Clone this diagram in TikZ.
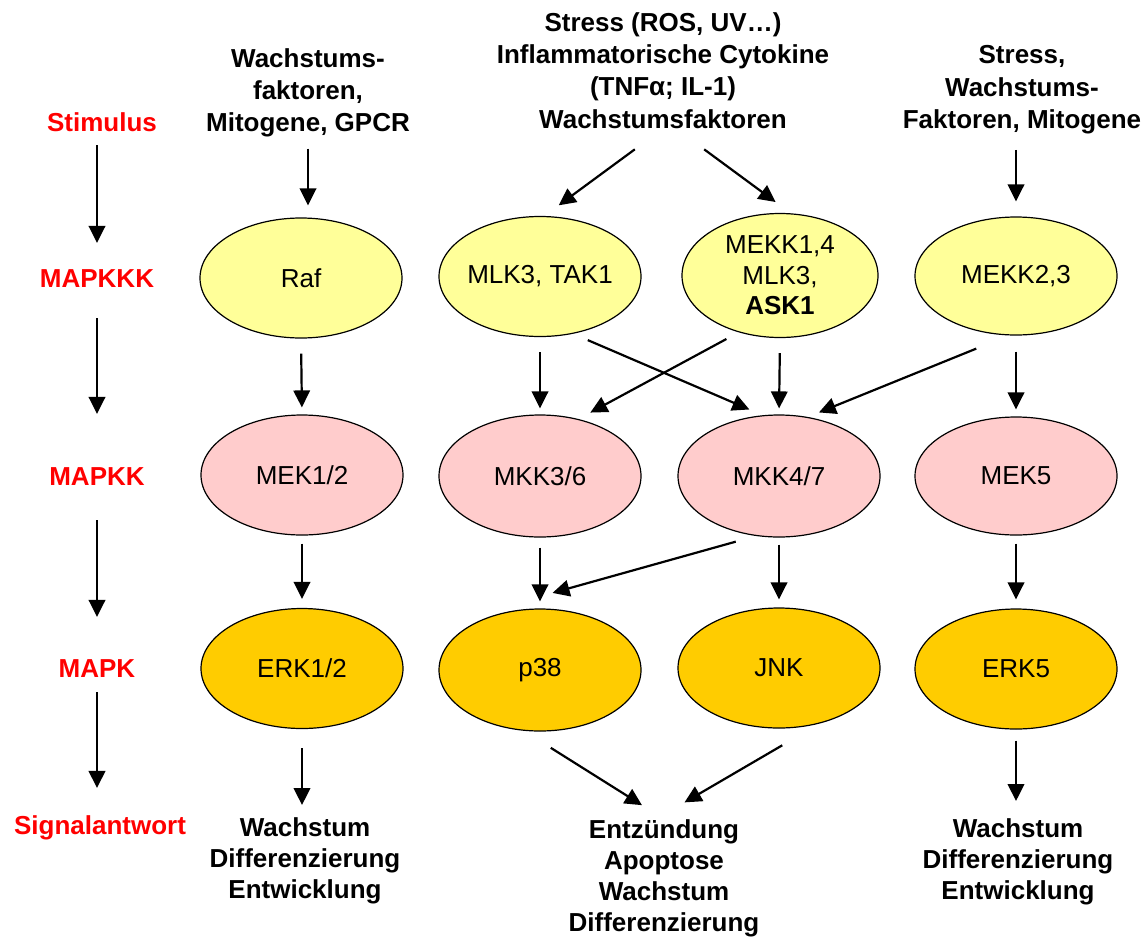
\documentclass[tikz,border=0pt]{standalone}
\usepackage{fontspec}
\setmainfont{Liberation Sans}
\usetikzlibrary{arrows.meta,shapes.geometric}
\definecolor{kkkfill}{HTML}{FFFF99}
\definecolor{kkfill}{HTML}{FFCCCC}
\definecolor{mapkfill}{HTML}{FFCC00}
\definecolor{levelred}{HTML}{FF0000}

\begin{document}
\begin{tikzpicture}[x=1pt,y=1pt,line join=round,
  kinase/.style={ellipse,draw,line width=1.2pt,inner sep=0pt,
    minimum width=202pt,minimum height=120pt,align=center,
    font=\fontsize{26}{30.5}\selectfont},
  tierkkk/.style={kinase,fill=kkkfill},
  tierkk/.style={kinase,fill=kkfill},
  tierk/.style={kinase,fill=mapkfill},
  level/.style={font=\fontsize{26}{30}\selectfont\bfseries,text=levelred,
    inner sep=0pt,anchor=base},
  cue/.style={font=\fontsize{26}{32.2}\selectfont\bfseries,align=center,
    inner sep=0pt,anchor=north},
  outcome/.style={font=\fontsize{26}{31.3}\selectfont\bfseries,align=center,
    inner sep=0pt,anchor=north},
  arr/.style={-{Triangle[length=17pt,width=16.5pt]},line width=2.2pt}]

\useasboundingbox (0,0) rectangle (1145,-938);

% Cascade levels on the left.
\node[level] (lStim) at (102,-131) {Stimulus};
\node[level] (lKKK) at (97,-287.5) {MAPKKK};
\node[level] (lKK) at (97,-485) {MAPKK};
\node[level] (lK) at (97,-677) {MAPK};
\node[level] (lSig) at (100,-834) {Signalantwort};
\draw[arr,shorten <=14pt,shorten >=26.5pt] (lStim.south -| lKKK) -- (lKKK.north);
\draw[arr,shorten <=30.5pt,shorten >=53pt] (lKKK.south) -- (lKK.north);
\draw[arr,shorten <=35pt,shorten >=42pt] (lKK.south) -- (lK.north);
\draw[arr,shorten <=15pt,shorten >=27pt] (lK.south) -- (lSig.north -| lK);

% Stimuli above the four modules.
\node[cue] (cueA) at (308,-48.5) {Wachstums-\\faktoren,\\Mitogene, GPCR};
\node[cue] (cueB) at (663,-12.5)
  {Stress (ROS, UV…)\\Inflammatorische Cytokine\\(TNFα; IL-1)\\Wachstumsfaktoren};
\node[cue] (cueC) at (1022,-45.5) {Stress,\\Wachstums-\\Faktoren, Mitogene};

% MAPKKK row.
\node[tierkkk] (Raf) at (301,-278) {Raf};
\node[tierkkk] (MLK) at (540,-276.5) {\makebox[120pt]{MLK3, TAK1}};
\node[tierkkk,minimum width=196pt,minimum height=124pt] (MEKKa) at (780,-275.5)
  {MEKK1,4\\MLK3,\\\textbf{ASK1}};
\node[tierkkk,minimum height=118pt] (MEKKb) at (1016,-276) {MEKK2,3};

% MAPKK row.
\node[tierkk] (MEKa) at (302,-475) {MEK1/2};
\node[tierkk,minimum height=122pt] (MKKa) at (540,-476) {MKK3/6};
\node[tierkk,minimum height=122pt] (MKKb) at (779,-476) {MKK4/7};
\node[tierkk,minimum height=118pt] (MEKb) at (1016,-476) {MEK5};

% MAPK row.
\node[tierk] (ERKa) at (302,-668.5) {ERK1/2};
\node[tierk,minimum height=122pt] (p38) at (540,-670) {p38};
\node[tierk] (JNK) at (779,-668) {JNK};
\node[tierk] (ERKb) at (1016,-669) {ERK5};

% Responses.
\node[outcome] (outA) at (305,-817) {Wachstum\\Differenzierung\\Entwicklung};
\node[outcome] (outB) at (664,-819)
  {Entzündung\\Apoptose\\Wachstum\\Differenzierung};
\node[outcome] (outC) at (1018,-818) {Wachstum\\Differenzierung\\Entwicklung};

% Stimulus -> MAPKKK.
\draw[arr,shorten <=11pt,shorten >=12pt] (cueA.south) -- (cueA.south |- Raf.north);
\draw[arr,shorten <=35pt,shorten >=18pt] (cueB.south) -- (MLK.86);
\draw[arr,shorten <=35pt,shorten >=19pt] ([xshift=13pt]cueB.south) -- (MEKKa.80);
\draw[arr,shorten <=16pt,shorten >=15pt] (cueC.south -| MEKKb.north) -- (MEKKb.north);

% MAPKKK -> MAPKK.
\draw[arr,shorten <=15pt,shorten >=7pt] (Raf.south) -- (MEKa.north);
\draw[arr,shorten <=15pt,shorten >=6pt] (MLK.south) -- (MKKa.north);
\draw[arr,shorten <=16pt,shorten >=14.5pt] (MLK.-60) -- (MKKb.105);
\draw[arr,shorten <=14pt,shorten >=13.5pt] (MEKKa.-126) -- (MKKa.56);
\draw[arr,shorten <=15pt,shorten >=6pt] (MEKKa.south) -- (MKKb.north);
\draw[arr,shorten <=35pt,shorten >=12pt] (MEKKb.-97) -- (MKKb.64);
\draw[arr,shorten <=16pt,shorten >=7pt] (MEKKb.south) -- (MEKb.north);

% MAPKK -> MAPK.
\draw[arr,shorten <=8pt,shorten >=9pt] (MEKa.south) -- (ERKa.north);
\draw[arr,shorten <=10pt,shorten >=7pt] (MKKa.south) -- (p38.north);
\draw[arr,shorten <=21pt,shorten >=13pt] (MKKb.-111) -- ([yshift=12pt]p38.north);
\draw[arr,shorten <=7pt,shorten >=8pt] (MKKb.south) -- (JNK.north);
\draw[arr,shorten <=8pt,shorten >=9pt] (MEKb.south) -- (ERKb.north);

% MAPK -> response.
\draw[arr,shorten <=19pt,shorten >=12pt] (ERKa.south) -- (ERKa.south |- outA.north);
\draw[arr,shorten <=32pt,shorten >=26pt] (p38.-105) -- (outB.north);
\draw[arr,shorten <=43pt,shorten >=33pt] (JNK.-54) -- ([xshift=-8pt]outB.north);
\draw[arr,shorten <=11pt,shorten >=17pt] (ERKb.south) -- (ERKb.south |- outC.north);
\end{tikzpicture}
\end{document}
